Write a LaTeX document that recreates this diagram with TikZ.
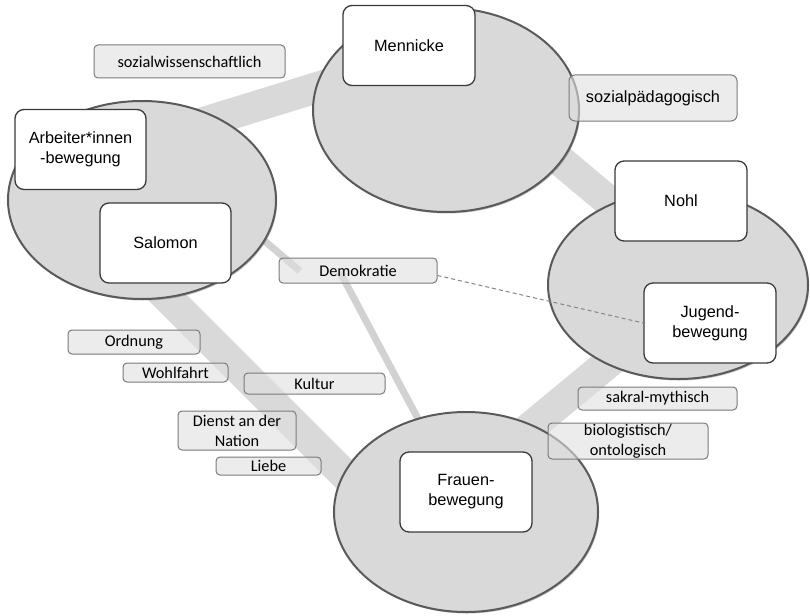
\documentclass[tikz,border=0pt]{standalone}
\usepackage{fontspec}
\usetikzlibrary{shapes.geometric,shadows}
\newfontfamily\arialf{Liberation Sans}
\newfontfamily\calf{Carlito}
\definecolor{ellfill}{HTML}{D9D9D9}
\definecolor{elldraw}{HTML}{5A5A5A}
\definecolor{bandcol}{HTML}{D9D9D9}
\definecolor{thincol}{HTML}{D2D2D2}
\definecolor{boxdraw}{HTML}{3A3A3A}
\definecolor{tagfill}{HTML}{DFDFDF}
\definecolor{tagdraw}{HTML}{7A7A7A}
\definecolor{dashcol}{HTML}{858585}
\begin{document}
\begin{tikzpicture}[x=1pt,y=-1pt,
  band/.style={line width=31pt, draw=bandcol},
  thinband/.style={line width=7pt, draw=thincol},
  group/.style={ellipse, fill=ellfill, draw=elldraw, line width=2pt, inner sep=0pt,
    drop shadow={shadow xshift=1.2pt, shadow yshift=-1.5pt, opacity=0.35, fill=black!70}},
  person/.style={rectangle, rounded corners=9pt, fill=white, draw=boxdraw, line width=1.3pt,
    inner sep=0pt, align=center, minimum width=132pt, minimum height=80pt,
    font=\arialf\fontsize{16.3}{20}\selectfont},
  tag/.style={rectangle, rounded corners=4pt, fill=tagfill, fill opacity=0.6, text opacity=1,
    draw=tagdraw, line width=1pt, inner sep=0pt, align=center,
    font=\calf\fontsize{16.3}{20}\selectfont},
  atag/.style={tag, rounded corners=6pt, font=\arialf\fontsize{16.3}{20}\selectfont},
  link/.style={draw=dashcol, line width=1pt, dash pattern=on 4pt off 3pt}]
\useasboundingbox (0,0) rectangle (810,615);

% end points of the broad links between the groups
\coordinate (b1a) at (150,139);
\coordinate (b1b) at (400,62);
\coordinate (b2a) at (500,110);
\coordinate (b2b) at (650,236);
\coordinate (b3a) at (660,320);
\coordinate (b3b) at (480,469);
\coordinate (b4a) at (130,260);
\coordinate (b4b) at (420,550);
% end points of the narrow links through Demokratie
\coordinate (t1a) at (240,220);
\coordinate (t1b) at (300,271);
\coordinate (t2a) at (340,272);
\coordinate (t2b) at (425,432);

\draw[band] (b1a) -- (b1b);
\draw[band] (b2a) -- (b2b);
\draw[band] (b3a) -- (b3b);
\draw[band] (b4a) -- (b4b);
\draw[thinband] (t1a) -- (t1b);
\draw[thinband] (t2a) -- (t2b);

% the four groups
\node[group, minimum width=268pt, minimum height=198pt] (gleft)  at (142,200) {};
\node[group, minimum width=266pt, minimum height=204pt] (gtop)   at (446,110) {};
\node[group, minimum width=260pt, minimum height=188pt] (gright) at (678,285) {};
\node[group, minimum width=264pt, minimum height=200pt] (gbottom) at (466,512) {};

% persons and movements
\node[person] (mennicke) at (409,45.5) {Mennicke};
\node[person, minimum width=131pt] (arbeiter) at (80.5,149.5) {Arbeiter*innen\\-bewegung};
\node[person, minimum width=131pt] (salomon) at (165.5,243) {Salomon};
\node[person] (nohl) at (681,201) {Nohl};
\node[person] (jugend) at (710,323) {Jugend-\\bewegung};
\node[person] (frauen) at (466,492) {Frauen-\\bewegung};

% keywords
\node[tag, minimum width=191pt, minimum height=33pt] (sozw) at (189.5,61.5) {sozialwissenschaftlich};
\node[atag, minimum width=168pt, minimum height=46pt] (sozp) at (653,98) {sozialpädagogisch};
\node[tag, minimum width=158pt, minimum height=25pt] (demokratie) at (358,270.5) {Demokratie};
\node[tag, minimum width=132pt, minimum height=24pt] (ordnung) at (134,342) {Ordnung};
\node[tag, minimum width=105pt, minimum height=19pt] (wohlfahrt) at (175.5,372.5) {Wohlfahrt};
\node[tag, minimum width=141pt, minimum height=21pt] (kultur) at (314.5,383.5) {Kultur};
\node[tag, minimum width=118pt, minimum height=39pt] (dienst) at (237,430.5) {Dienst an der\\Nation};
\node[tag, minimum width=105pt, minimum height=18pt] (liebe) at (268.5,466) {Liebe};
\node[tag, minimum width=159pt, minimum height=23pt] (sakral) at (657.5,398.5) {sakral-mythisch};
\node[tag, minimum width=160pt, minimum height=36pt] (bio) at (628,441) {biologistisch/\\ontologisch};

% loose tie between Demokratie and the youth movement
\draw[link] ([yshift=-5pt]demokratie.east) -- (jugend.west);
\end{tikzpicture}
\end{document}
